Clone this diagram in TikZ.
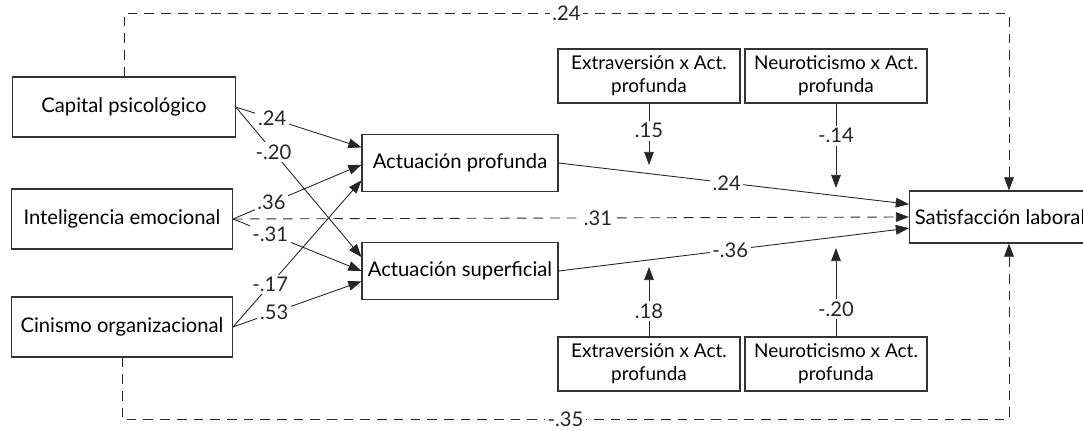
\documentclass[tikz,border=0pt]{standalone}
\usepackage{fontspec}
\setmainfont{Lato}
\usetikzlibrary{arrows.meta}

\begin{document}
\begin{tikzpicture}[x=0.02cm, y=0.02cm]
            \tikzstyle{every node}+=[font=\fontsize{11.5}{13}\selectfont]
            \tikzstyle{box}=[draw=black!80, line width=0.6pt, inner sep=0pt, align=center]
            \tikzstyle{modbox}=[box, font=\fontsize{10.8}{13}\selectfont, minimum width=3.64cm, minimum height=1.08cm]
            \tikzstyle{conn}=[black!85, line width=0.5pt, -{Triangle[length=7.5pt,width=5.5pt]}]
            \tikzstyle{dconn}=[conn, dash pattern=on 5.5pt off 4pt]
            \tikzstyle{coef}=[fill=white, inner sep=1.5pt]
            \useasboundingbox (0,0) rectangle (1083,-431);
            % predictores
            \node [box, minimum width=4.45cm, minimum height=1.2cm] (cap) at (124,-107) {Capital psicológico};
            \node [box, minimum width=4.42cm, minimum height=1.2cm] (ie) at (122,-219) {Inteligencia emocional};
            \node [box, minimum width=4.42cm, minimum height=1.2cm] (cin) at (122,-327) {Cinismo organizacional};
            % mediadores
            \node [box, minimum width=3.92cm, minimum height=1.14cm] (ap) at (460,-163) {Actuación profunda};
            \node [box, minimum width=3.92cm, minimum height=1.14cm] (as) at (460,-271) {Actuación superficial};
            % moderadores
            \node [modbox] (ext1) at (649,-76) {Extraversión x Act.\\profunda};
            \node [modbox] (neu1) at (836,-76) {Neuroticismo x Act.\\profunda};
            \node [modbox] (ext2) at (649,-364) {Extraversión x Act.\\profunda};
            \node [modbox] (neu2) at (836,-364) {Neuroticismo x Act.\\profunda};
            % resultado
            \node [box, minimum width=3.62cm, minimum height=1.04cm] (sat) at (1000,-217) {Satisfacción laboral};
            \coordinate (m1) at (649,-165);
            \coordinate (m2) at (836,-188);
            \coordinate (m3) at (649,-267);
            \coordinate (m4) at (836,-248);
            % efectos directos
            \draw [conn] (cap.east) -- (ap.171) node [coef, pos=0.29] {.24};
            \draw [conn] (cap.east) -- (as.172) node [coef, pos=0.3] {-.20};
            \draw [conn] (ie.east) -- (ap.181) node [coef, pos=0.3] {.36};
            \draw [conn] (ie.east) -- (as.180) node [coef, pos=0.29] {-.31};
            \draw [conn] (cin.east) -- (ap.190) node [coef, pos=0.29] {-.17};
            \draw [conn] (cin.east) -- (as.186) node [coef, pos=0.32] {.53};
            \draw [conn] (ap.east) -- (sat.172) node [coef, pos=0.48] {.24};
            \draw [conn] (as.east) -- (sat.187) node [coef, pos=0.49] {-.36};
            \draw [dconn] (ie.east) -- (sat.west) node [coef, pos=0.54] {.31};
            \draw [dconn] (cap.north) -- ++(0,63) -| ([xshift=0.18cm]sat.north) node [coef, pos=0.25] {.24};
            \draw [dconn] (cin.south) -- ++(0,-62) -| ([xshift=0.18cm]sat.south) node [coef, pos=0.25] {-.35};
            % moderaciones
            \draw [conn] (ext1.south) -- (m1) node [coef, pos=0.44] {.15};
            \draw [conn] (neu1.south) -- (m2) node [coef, pos=0.38] {-.14};
            \draw [conn] (ext2.north) -- (m3) node [coef, pos=0.36] {.18};
            \draw [conn] (neu2.north) -- (m4) node [coef, pos=0.31] {-.20};
\end{tikzpicture}
\end{document}
